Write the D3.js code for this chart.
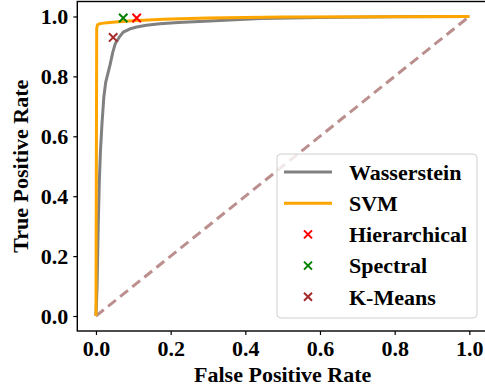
<!DOCTYPE html>
<html>
<head>
<meta charset="utf-8">
<script src="https://cdn.jsdelivr.net/npm/d3@7"></script>
<style>
  body { margin: 0; background: #fff; }
  svg text { font-family: "Liberation Serif", "Times New Roman", serif; font-weight: bold; }
</style>
</head>
<body>
<div id="chart"></div>
<script>
// ROC curves
const wassFpr = [0, 0.003, 0.006, 0.009, 0.012, 0.016, 0.021, 0.026, 0.032, 0.038, 0.045, 0.052, 0.062, 0.073, 0.09, 0.109, 0.135, 0.171, 0.22, 0.305, 0.44, 0.6, 0.8, 1.0];
const wassTpr = [0, 0.1, 0.3, 0.45, 0.55, 0.64, 0.73, 0.78, 0.81, 0.84, 0.88, 0.91, 0.93, 0.948, 0.958, 0.965, 0.971, 0.976, 0.98, 0.985, 0.993, 0.997, 0.999, 1.0];
const svmFpr = [0, 0.001, 0.002, 0.004, 0.008, 0.015, 0.03, 0.06, 0.1, 0.18, 0.3, 0.5, 1.0];
const svmTpr = [0, 0.5, 0.96, 0.972, 0.975, 0.977, 0.979, 0.982, 0.986, 0.991, 0.995, 0.998, 1.0];

// single points for the clustering methods
const clusterNames = ['Hierarchical', 'Spectral', 'K-Means'];
const clusterFpr = [0.109, 0.073, 0.046];
const clusterTpr = [0.995, 0.995, 0.93];
const clusterColors = ['#ff0000', '#008000', '#a52a2a'];

const xTicks = [0.0, 0.2, 0.4, 0.6, 0.8, 1.0];
const yTicks = [0.0, 0.2, 0.4, 0.6, 0.8, 1.0];

const W = 485, H = 388;
const svg = d3.select('#chart').append('svg').attr('width', W).attr('height', H);

// x: 0 -> 96, 1 -> 469.3 ; y: 0 -> 316, 1 -> 16.5
const x = d3.scaleLinear().domain([-0.05, 1.05]).range([77.3, 488]);
const y = d3.scaleLinear().domain([-0.05, 1.05]).range([331, 1.5]);

const g = svg.append('g');

// diagonal chance line
g.append('line')
    .attr('x1', x(0)).attr('y1', y(0))
    .attr('x2', x(1)).attr('y2', y(1))
    .attr('stroke', '#bc8f8f').attr('stroke-width', 3)
    .attr('stroke-dasharray', '10,5.5');

const line = d3.line().x(d => x(d[0])).y(d => y(d[1]));

g.append('path')
    .datum(wassFpr.map((f, i) => [f, wassTpr[i]]))
    .attr('d', line)
    .attr('fill', 'none').attr('stroke', '#808080').attr('stroke-width', 3)
    .attr('stroke-linejoin', 'round');

g.append('path')
    .datum(svmFpr.map((f, i) => [f, svmTpr[i]]))
    .attr('d', line)
    .attr('fill', 'none').attr('stroke', '#ffa500').attr('stroke-width', 3)
    .attr('stroke-linejoin', 'round');

function cross(s) {
    return 'M' + (-s) + ',' + (-s) + 'L' + s + ',' + s + 'M' + (-s) + ',' + s + 'L' + s + ',' + (-s);
}

g.selectAll('.pt').data(clusterNames).enter().append('path')
    .attr('class', 'pt')
    .attr('transform', (d, i) => 'translate(' + x(clusterFpr[i]) + ',' + y(clusterTpr[i]) + ')')
    .attr('d', cross(4.2))
    .attr('stroke', (d, i) => clusterColors[i])
    .attr('stroke-width', 2);

// axes
const xAxis = svg.append('g').attr('transform', 'translate(0,' + 331 + ')')
    .call(d3.axisBottom(x).tickValues(xTicks).tickFormat(d3.format('.1f')).tickSizeOuter(0).tickSize(4).tickPadding(5));
const yAxis = svg.append('g').attr('transform', 'translate(' + 77.3 + ',0)')
    .call(d3.axisLeft(y).tickValues(yTicks).tickFormat(d3.format('.1f')).tickSizeOuter(0).tickSize(4).tickPadding(5));

[xAxis, yAxis].forEach(a => {
    a.select('.domain').remove();
    a.selectAll('.tick line').attr('stroke', '#000').attr('stroke-width', 1.2);
    a.selectAll('.tick text').attr('font-size', 22).attr('fill', '#000');
});

// frame
svg.append('rect')
    .attr('x', 77.3).attr('y', 1.5)
    .attr('width', 488 - 77.3).attr('height', 331 - 1.5)
    .attr('fill', 'none').attr('stroke', '#000').attr('stroke-width', 1.4);

// axis titles
svg.append('text')
    .attr('x', x(0.5)).attr('y', 382)
    .attr('text-anchor', 'middle').attr('font-size', 22)
    .text('False Positive Rate');

svg.append('text')
    .attr('transform', 'translate(28,' + y(0.5) + ') rotate(-90)')
    .attr('text-anchor', 'middle').attr('font-size', 22)
    .text('True Positive Rate');

// legend
const legend = svg.append('g');
legend.append('rect')
    .attr('x', 277).attr('y', 154).attr('width', 200).attr('height', 164)
    .attr('rx', 4).attr('fill', '#fff').attr('fill-opacity', 0.8)
    .attr('stroke', '#d0d0d0').attr('stroke-width', 1);

const legendRows = ['Wasserstein', 'SVM'].concat(clusterNames);
const legendColors = ['#808080', '#ffa500'].concat(clusterColors);
const rowY = 172, rowStep = 31.2;

legendRows.forEach((name, i) => {
    const cy = rowY + i * rowStep;
    if (i < 2) {
        legend.append('line')
            .attr('x1', 284).attr('x2', 332).attr('y1', cy).attr('y2', cy)
            .attr('stroke', legendColors[i]).attr('stroke-width', 3);
    } else {
        legend.append('path')
            .attr('transform', 'translate(308,' + cy + ')')
            .attr('d', cross(4))
            .attr('stroke', legendColors[i]).attr('stroke-width', 2);
    }
    legend.append('text')
        .attr('x', 349).attr('y', cy).attr('dy', '0.35em')
        .attr('font-size', 22)
        .text(name);
});
</script>
</body>
</html>
